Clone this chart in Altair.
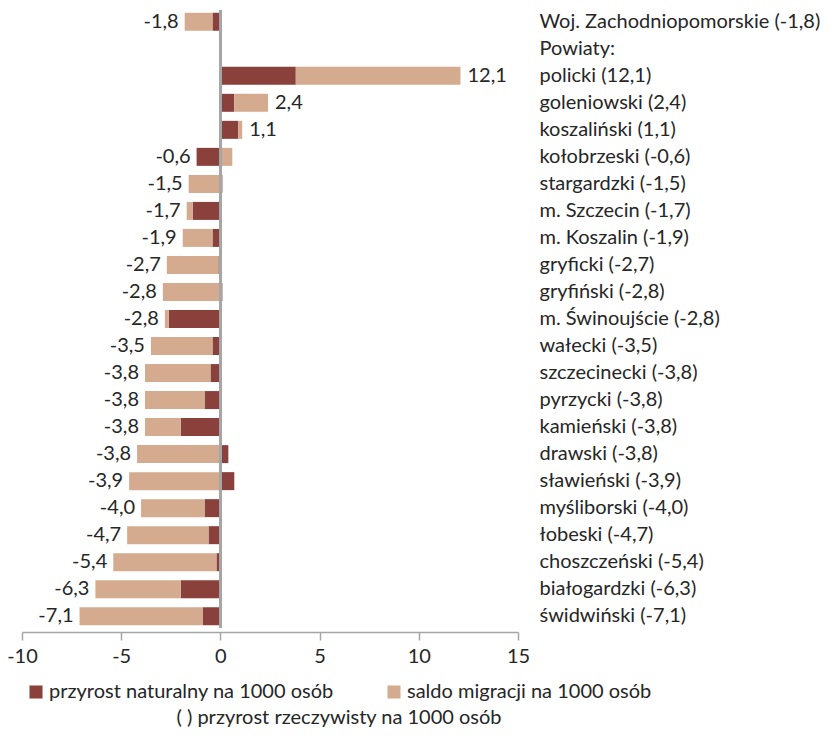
import altair as alt
import pandas as pd

names = ["Woj. Zachodniopomorskie", "policki", "goleniowski", "koszaliński", "kołobrzeski",
         "stargardzki", "m. Szczecin", "m. Koszalin", "gryficki", "gryfiński", "m. Świnoujście",
         "wałecki", "szczecinecki", "pyrzycki", "kamieński", "drawski", "sławieński",
         "myśliborski", "łobeski", "choszczeński", "białogardzki", "świdwiński"]
totals = [-1.8, 12.1, 2.4, 1.1, -0.6, -1.5, -1.7, -1.9, -2.7, -2.8, -2.8, -3.5, -3.8, -3.8,
          -3.8, -3.8, -3.9, -4.0, -4.7, -5.4, -6.3, -7.1]
natural = [-0.4, 3.8, 0.7, 0.9, -1.2, 0.1, -1.4, -0.4, -0.1, 0.1, -2.6, -0.4, -0.5, -0.8,
           -2.0, 0.4, 0.7, -0.8, -0.6, -0.2, -2.0, -0.9]
migration = [-1.4, 8.3, 1.7, 0.2, 0.6, -1.6, -0.3, -1.5, -2.6, -2.9, -0.2, -3.1, -3.3, -3.0,
             -1.8, -4.2, -4.6, -3.2, -4.1, -5.2, -4.3, -6.2]
section_label = "Powiaty:"
series = ["przyrost naturalny na 1000 osób", "saldo migracji na 1000 osób"]
legend_note = "( )  przyrost rzeczywisty na 1000 osób"
tick_values = [-10, -5, 0, 5, 10, 15]
colors = ["#8B413B", "#D4AB8F"]
FONT = "Lato"
TXT = "#262626"


def fmt(v):
    return f"{v:.1f}".replace(".", ",")


labels = [f"{n} ({fmt(t)})" for n, t in zip(names, totals)]
domain = [labels[0], section_label] + labels[1:]

bars = []
lab = []
for L, t, n, m in zip(labels, totals, natural, migration):
    bars.append({"label": L, "series": series[0], "x0": 0.0, "x1": n})
    start = n if (n >= 0) == (m >= 0) else 0.0
    bars.append({"label": L, "series": series[1], "x0": start, "x1": start + m})
    neg = sum(v for v in (n, m) if v < 0)
    pos = sum(v for v in (n, m) if v > 0)
    lab.append({"label": L, "txt": fmt(t), "anchor": neg if t < 0 else pos,
                "sign": "neg" if t < 0 else "pos"})

bdf = pd.DataFrame(bars)
ldf = pd.DataFrame(lab)

yscale = alt.Scale(domain=domain, paddingInner=0.33, paddingOuter=0.1)

base_y = alt.Y("label:N", scale=yscale, sort=domain,
               axis=alt.Axis(orient="right", domain=False, ticks=False, labelPadding=21,
                             labelAlign="left", labelFontSize=20, labelFont=FONT,
                             labelColor=TXT, labelLimit=0, title=None))

xscale = alt.Scale(domain=[-10, 15], nice=False, zero=False)

bar_layer = alt.Chart(bdf).mark_bar(size=18).encode(
    x=alt.X("x0:Q", scale=xscale,
            axis=alt.Axis(values=tick_values, grid=False, domainColor="#a6a6a6",
                          domainWidth=1.5, tickColor="#a6a6a6", tickSize=8, tickWidth=1.5,
                          labelFontSize=20, labelFont=FONT, labelColor=TXT, labelPadding=6,
                          labelExpr="'' + datum.value", labelFlush=False,
                          title=None, offset=4)),
    x2="x1:Q",
    y=base_y,
    color=alt.Color("series:N", scale=alt.Scale(domain=series, range=colors),
                    legend=alt.Legend(orient="none", legendX=4, legendY=672, direction="horizontal",
                                      columns=2, columnPadding=50, symbolType="square",
                                      symbolSize=170, symbolStrokeWidth=0, labelFontSize=20,
                                      labelFont=FONT, labelColor=TXT, labelLimit=0, labelOffset=3,
                                      title=legend_note, titleOrient="bottom", titleAnchor="middle",
                                      titleFontSize=20, titleFont=FONT, titleFontWeight="normal",
                                      titleColor=TXT, titlePadding=6, titleLimit=0)),
)

neg_text = alt.Chart(ldf).transform_filter(alt.datum.sign == "neg").mark_text(
    align="right", baseline="middle", dx=-6, fontSize=20, font=FONT, color=TXT
).encode(x=alt.X("anchor:Q", scale=xscale), y=alt.Y("label:N", scale=yscale, sort=domain), text="txt:N")

pos_text = alt.Chart(ldf).transform_filter(alt.datum.sign == "pos").mark_text(
    align="left", baseline="middle", dx=7, fontSize=20, font=FONT, color=TXT
).encode(x=alt.X("anchor:Q", scale=xscale), y=alt.Y("label:N", scale=yscale, sort=domain), text="txt:N")

zero_rule = alt.Chart(ldf).mark_rule(color="#a6a6a6", strokeWidth=2).encode(x=alt.datum(0))

chart = alt.layer(bar_layer, zero_rule, neg_text, pos_text).properties(
    width=496, height=618,
    autosize=alt.AutoSizeParams(type="none"),
    padding={"left": 14, "top": 2, "right": 307, "bottom": 101},
).configure_view(stroke=None)

chart.save("out.html", embed_options={"renderer": "svg", "actions": False})
